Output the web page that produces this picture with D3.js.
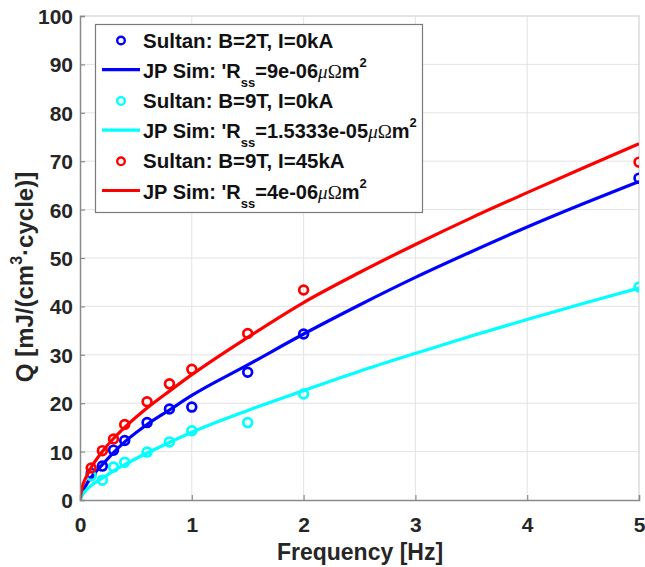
<!DOCTYPE html>
<html><head><meta charset="utf-8">
<script src="https://cdn.jsdelivr.net/npm/d3@7"></script>
<style>body{margin:0;background:#fff} svg{display:block}</style>
</head><body>
<svg id="c" width="645" height="567"></svg>
<script>
// ---- data ----
const freqData    = [0.1, 0.2, 0.3, 0.4, 0.6, 0.8, 1.0, 1.5, 2.0, 5.0];
const sultanB2    = [5.5, 7.0, 10.3, 12.3, 16.0, 18.8, 19.2, 26.4, 34.3, 66.5];
const sultanB9    = [5.0, 4.1, 6.8, 7.8, 9.9, 12.0, 14.3, 16.0, 21.9, 44.0];
const sultanB9I45 = [6.6, 10.2, 12.6, 15.6, 20.3, 24.0, 27.0, 34.4, 43.4, 69.8];

const freqSim  = [0, 0.02, 0.05, 0.1, 0.2, 0.3, 0.4, 0.6, 0.8, 1.0, 1.5, 2.0, 2.5, 3.0, 3.5, 4.0, 4.5, 5.0];
const simB2    = [0, 1.5, 2.9, 4.7, 7.3, 9.8, 12.0, 15.6, 18.6, 21.6, 27.9, 34.3, 40.3, 46.0, 51.3, 56.4, 61.2, 65.8];
const simB9    = [0, 1.0, 1.9, 3.0, 4.5, 6.0, 7.3, 9.7, 11.9, 14.0, 18.5, 22.6, 26.6, 30.3, 33.9, 37.3, 40.6, 43.8];
const simB9I45 = [0, 2.7, 4.5, 6.7, 10.0, 12.7, 15.0, 19.0, 22.5, 25.9, 33.6, 40.8, 47.0, 52.8, 58.3, 63.5, 68.6, 73.6];

const xTicks = [0, 1, 2, 3, 4, 5];
const yTicks = [0, 10, 20, 30, 40, 50, 60, 70, 80, 90, 100];

const seriesNames = ["Sultan: B=2T, I=0kA", "Sultan: B=9T, I=0kA", "Sultan: B=9T, I=45kA"];
const simRss = ["9e-06", "1.5333e-05", "4e-06"];
const colors = ["#0000ff", "#00ffff", "#ff0000"];

// ---- layout ----
const svg = d3.select("#c");
const L = 80, R = 639, T = 16, B = 500;
const x = d3.scaleLinear().domain([0, 5]).range([L, R]);
const y = d3.scaleLinear().domain([0, 100]).range([B, T]);
const FONT = "'Liberation Sans', Arial, Helvetica, sans-serif";
const SERIF = "'Liberation Serif', 'Times New Roman', serif";

svg.append("rect").attr("width", 645).attr("height", 567).attr("fill", "#fff");

// grid
const grid = svg.append("g");
grid.selectAll("line.gx").data(xTicks.slice(1)).join("line")
  .attr("x1", d => x(d)).attr("x2", d => x(d)).attr("y1", T).attr("y2", B)
  .attr("stroke", "#e3e3e3").attr("stroke-width", 1);
grid.selectAll("line.gy").data(yTicks.slice(1)).join("line")
  .attr("y1", d => y(d)).attr("y2", d => y(d)).attr("x1", L).attr("x2", R)
  .attr("stroke", "#e3e3e3").attr("stroke-width", 1);

// box top/right (light)
svg.append("path").attr("d", `M${L},${T}H${R}V${B}`).attr("fill", "none")
  .attr("stroke", "#e0e0e0").attr("stroke-width", 1.5);

// clip
svg.append("clipPath").attr("id", "clip").append("rect")
  .attr("x", L).attr("y", T).attr("width", R - L).attr("height", B - T);

const plot = svg.append("g").attr("clip-path", "url(#clip)");
const line = d3.line().x(d => x(d[0])).y(d => y(d[1])).curve(d3.curveMonotoneX);

const dataSets = [sultanB2, sultanB9, sultanB9I45];
const simSets = [simB2, simB9, simB9I45];

dataSets.forEach((vals, i) => {
  plot.append("g").selectAll("circle").data(freqData.map((f, j) => [f, vals[j]])).join("circle")
    .attr("cx", d => x(d[0])).attr("cy", d => y(d[1])).attr("r", 4.4)
    .attr("fill", "none").attr("stroke", colors[i]).attr("stroke-width", 2.7);
  plot.append("path").datum(freqSim.map((f, j) => [f, simSets[i][j]]))
    .attr("d", line).attr("fill", "none").attr("stroke", colors[i]).attr("stroke-width", 3.2);
});

// axes
const xAxis = d3.axisBottom(x).tickValues(xTicks).tickSize(-5).tickPadding(12).tickFormat(d3.format("d"));
const yAxis = d3.axisLeft(y).tickValues(yTicks).tickSize(-5).tickPadding(7).tickFormat(d3.format("d"));

const gx = svg.append("g").attr("transform", `translate(0,${B})`).call(xAxis);
const gy = svg.append("g").attr("transform", `translate(${L},0)`).call(yAxis);
[gx, gy].forEach(g => {
  g.select(".domain").attr("stroke", "#8a8a8a").attr("stroke-width", 1.5);
  g.selectAll(".tick line").attr("stroke", "#8a8a8a").attr("stroke-width", 1.2);
  g.selectAll(".tick text").attr("fill", "#262626").attr("font-family", FONT)
    .attr("font-weight", "bold").attr("font-size", 21);
});
gx.selectAll(".tick text").attr("dy", null).attr("y", 32);
gy.selectAll(".tick text").attr("dy", "0.36em");

// axis labels
svg.append("text").attr("x", 360).attr("y", 560).attr("text-anchor", "middle")
  .attr("font-family", FONT).attr("font-weight", "bold").attr("font-size", 23)
  .attr("fill", "#262626").text("Frequency [Hz]");

const yl = svg.append("text").attr("transform", "translate(33,277) rotate(-90)")
  .attr("text-anchor", "middle").attr("font-family", FONT).attr("font-weight", "bold")
  .attr("font-size", 24).attr("fill", "#262626");
yl.append("tspan").text("Q [mJ/(cm");
yl.append("tspan").attr("dy", -11).attr("font-size", 16).text("3");
yl.append("tspan").attr("dy", 11).text("\u00b7cycle)]");

// legend
const lg = svg.append("g");
lg.append("rect").attr("x", 95.5).attr("y", 24.5).attr("width", 327).attr("height", 188)
  .attr("fill", "#fff").attr("stroke", "#7a7a7a").attr("stroke-width", 1.2);

const base0 = 47.5, step = 30.2;
seriesNames.forEach((name, i) => {
  const b1 = base0 + step * (2 * i);
  const b2 = base0 + step * (2 * i + 1);
  lg.append("circle").attr("cx", 121).attr("cy", b1 - 7).attr("r", 3.8)
    .attr("fill", "none").attr("stroke", colors[i]).attr("stroke-width", 2.4);
  lg.append("text").attr("x", 143).attr("y", b1).attr("font-family", FONT)
    .attr("font-weight", "bold").attr("font-size", 20.5).attr("fill", "#111").text(name);
  lg.append("line").attr("x1", 102).attr("x2", 140).attr("y1", b2 - 8).attr("y2", b2 - 8)
    .attr("stroke", colors[i]).attr("stroke-width", 3.2);
  const t = lg.append("text").attr("x", 143).attr("y", b2).attr("font-family", FONT)
    .attr("font-weight", "bold").attr("font-size", 20).attr("fill", "#111");
  t.append("tspan").text("JP Sim: 'R");
  t.append("tspan").attr("dy", 9).attr("font-size", 13).text("ss");
  t.append("tspan").attr("dy", -9).text("=" + simRss[i]);
  t.append("tspan").attr("font-family", SERIF)
    .attr("font-style", "italic").attr("font-weight", "normal").attr("font-size", 19).text("\u03bc");
  t.append("tspan").attr("font-family", SERIF)
    .attr("font-weight", "normal").attr("font-size", 19).text("\u03a9");
  t.append("tspan").text("m");
  t.append("tspan").attr("dy", -11).attr("font-size", 13).text("2");
});
</script>
</body></html>
